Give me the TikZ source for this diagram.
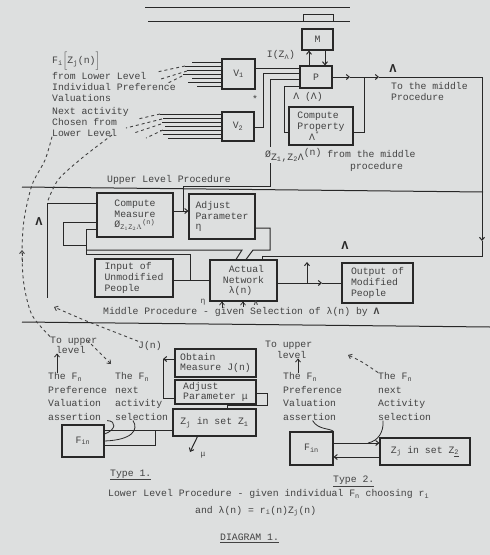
\documentclass[tikz,border=0pt]{standalone}
\usepackage{fontspec}
\setmainfont{Liberation Mono}
\setmonofont{Liberation Mono}
\usetikzlibrary{arrows.meta,positioning}
\definecolor{paper}{RGB}{221,223,223}
\definecolor{ink}{RGB}{40,40,40}
\definecolor{type}{RGB}{66,66,66}
\newcommand{\tyfont}{\fontsize{9.8}{10.8}\selectfont}
\newcommand{\sbs}[1]{\textsubscript{#1}}
\tikzset{>={Straight Barb[length=3pt,width=5pt]}}
\tikzset{
  box/.style={draw=ink, line width=1.1pt, align=left, inner sep=1pt, font=\tyfont, text=type},
  note/.style={align=left, inner sep=0pt, font=\tyfont, text=type, anchor=west},
  wire/.style={draw=ink, line width=1pt},
  feed/.style={draw=type, line width=0.9pt, dash pattern=on 3pt off 3pt},
  bigl/.style={inner sep=0pt, text=ink, font=\bfseries\fontsize{12}{12}\selectfont}
}
\begin{document}
\begin{tikzpicture}[x=1pt,y=-1pt]
\fill[paper] (0,0) rectangle (490,555);
\useasboundingbox (0,0) rectangle (490,555);

% top rules and cap
\draw[wire] (145,7) -- (350,7);
\draw[wire] (148,21) -- (350,21);
\draw[wire] (303,21) -- (303,14) -- (333,14) -- (333,21);

% upper level
\node[box, minimum width=31pt, minimum height=21pt, align=center] (m) at (317.5,39.5) {M};
\node[box, minimum width=32pt, minimum height=22pt, align=center] (p) at (316,77) {P};
\node[box, minimum width=64pt, minimum height=38pt] (cp) at (321,126) {Compute\\Property\\\ \ Λ\textsuperscript{*}};
\node[box, minimum width=33pt, minimum height=30pt, align=center] (v1) at (238.5,74) {V\sbs{1}};
\node[box, minimum width=32pt, minimum height=29pt, align=center] (v2) at (238,126.5) {V\sbs{2}};

\node[note] (fz) at (52,61) {F\sbs{i}$\Big[$Z\sbs{j}(n)$\Big]$};
\node[note, anchor=north west] (fl) at (52,72.5) {from Lower Level\\Individual Preference\\Valuations};
\node[note, anchor=north west] (cn) at (52,107.5) {Next activity\\Chosen from\\Lower Level};
\node[note, anchor=center] (iz) at (281,55) {I(Z\sbs{Λ})};
\node[note, anchor=center] (ll) at (308,97) {Λ (Λ)};
\node[bigl] (lt) at (393,69) {Λ};
\node[note, anchor=north west] (tm) at (391,82.5) {To the middle\\Procedure};
\node[note] (st) at (252,99) {*};

% bundles into V1 and V2
\foreach \yy/\xx in {62/192,66/185,70/187,74/183,78/192,82/188,86/197}
  \draw[wire, line width=0.8pt] (\xx,\yy) -- (v1.west |- 0,\yy);
\foreach \yy/\xx in {114/160,118/163,122/162,126/165,130/160,134/163,138/168}
  \draw[wire, line width=0.8pt] (\xx,\yy) -- (v2.west |- 0,\yy);
\draw[feed] (185,66) -- (157,72);
\draw[feed] (187,71) -- (161,79);
\draw[feed] (182,76) -- (168,83);
\draw[feed] (160,114) -- (138,119);
\draw[feed] (162,119) -- (126,128);
\draw[feed] (161,124) -- (134,133);
\draw[feed] (163,130) -- (146,138);

% wires into P
\draw[wire] (v1.east |- 0,68) -- (p.west |- 0,68);
\draw[wire] (v2.east |- 0,127) -- (263,127) -- (263,73) -- (p.west |- 0,73);
\draw[wire] (p.west |- 0,86) -- (284,86) -- (284,132) -- (cp.west |- 0,132);
\draw[wire,->] ([xshift=-7pt]p.north) -- ([xshift=-8.5pt]m.south);
\draw[wire,->] ([xshift=7.5pt]m.south) -- ([xshift=9pt]p.north);

% Lambda output
\coordinate (lamA) at (350,77);
\coordinate (lamB) at (364,77);
\coordinate (lamC) at (379,77);
\coordinate (lamD) at (482,241);
\draw[wire,->] (p.east) -- (lamA);
\draw[wire] (lamA) -- (lamB);
\draw[wire] (cp.east |- 0,132) -- (364,132) -- (lamB);
\draw[wire,->] (lamB) -- (lamC);
\draw[wire,->] (lamC) -- (482,77) -- (lamD);

% separators
\draw[wire] (22,187) -- (483,192);
\draw[wire] (22,322) -- (490,327);
\node[note] (ul) at (107,180) {Upper Level Procedure};

% middle level
\node[box, minimum width=76pt, minimum height=44pt] (cm) at (135,215) {Compute\\Measure\\Ø$_{\mathtt{Z}_1\mathtt{Z}_2\Lambda}$\textsuperscript{(n)}};
\node[box, minimum width=66pt, minimum height=45pt] (ap) at (222,216.5) {Adjust\\Parameter\\η};
\node[box, minimum width=78pt, minimum height=38pt] (iu) at (134,278) {Input of\\Unmodified\\People};
\node[box, minimum width=67pt, minimum height=41pt] (an) at (243.5,280.5) {\ Actual\\Network\\\ λ(n)};
\node[box, minimum width=71pt, minimum height=40pt] (om) at (377.5,283) {Output of\\Modified\\People};

\coordinate (cmout) at (183,211);
\draw[wire,->] (cm.east |- 0,211) -- (ap.west |- 0,211);
\draw[wire] (cmout) -- (183,186) -- (270,186) -- (270,79) -- (p.west |- 0,79);
\node[note, fill=paper, inner sep=1pt] (ph) at (264,155) {Ø\raisebox{-3pt}{Z\sbs{1},Z\sbs{2}Λ}\raisebox{2pt}{(n)} from the middle};
\node[note] (pr) at (350,167) {procedure};

\draw[wire] (cm.west |- 0,203) -- (47,203) -- (47,298);
\node[bigl] (lm) at (39,222) {Λ};
\draw[wire] (cm.west |- 0,222) -- (63,222) -- (63,245) -- (86,245);
\draw[wire] (cm.west |- 0,229) -- (86,229) -- (86,254) -- (190,254) -- (190,280);
\draw[wire] (86,250) -- (242,250) -- (an.north -| 236,0);
\draw[wire] (ap.east |- 0,228) -- (270,228) -- (270,250) -- (253,250) -- (an.north -| 246,0);
\draw[wire] (lamD) -- (482,256) -- (262,256) -- (an.north -| 262,0);
\node[bigl] (lw) at (345,246) {Λ};
\draw[wire] (iu.east |- 0,280) -- (an.west |- 0,280);

\coordinate (anout) at (307,283);
\coordinate (anmid) at (322,283);
\draw[wire] (an.east |- 0,283) -- (anout);
\draw[wire,->] (anout) -- (anmid);
\draw[wire] (anmid) -- (om.west |- 0,283);
\draw[wire,->] (anout) -- (307,262);

\node[note, anchor=center, font=\fontsize{8}{8}\selectfont] (et) at (203,302) {η};
\node[note, anchor=center, font=\bfseries\fontsize{7}{7}\selectfont] (la) at (256,303.5) {Λ};
\draw[wire, line width=0.7pt, ->] ([xshift=-21.5pt]an.south) ++(0,6) -- ([xshift=-21.5pt]an.south);
\draw[wire, line width=0.7pt, ->] ([xshift=-0.5pt]an.south) ++(0,5) -- ([xshift=-0.5pt]an.south);
\node[note] (mp) at (103,312) {Middle Procedure - given Selection of λ(n) by \textbf{Λ}};

% lower level, type 1
\node[box, minimum width=81pt, minimum height=28pt] (oj) at (215.5,363) {Obtain\\Measure J(n)};
\node[box, minimum width=81pt, minimum height=24pt] (am) at (215.5,392) {Adjust\\Parameter μ};
\node[box, minimum width=83pt, minimum height=27pt] (z1) at (214.5,422.5) {Z\sbs{j} in set Z\sbs{1}};
\node[box, minimum width=42pt, minimum height=32pt, align=center] (f1) at (83,441) {F\sbs{in}};

\node[note, anchor=north west, font={\fontsize{9.8}{10}\selectfont}] (tu1) at (50,336.5) {To upper\\\ level};
\node[note, anchor=north west, font={\fontsize{9.8}{13.5}\selectfont}] (pa1) at (48,372.5) {The F\sbs{n}\\Preference\\Valuation\\assertion};
\node[note, anchor=north west, font={\fontsize{9.8}{13.5}\selectfont}] (ns1) at (115,372.5) {The F\sbs{n}\\next\\activity\\selection};
\node[note, anchor=center] (jl) at (150,346) {J(n)};

\draw[wire, line width=0.8pt, ->] (pa1.north -| 57,0) -- (tu1.south -| 57,0);
\coordinate (jn) at (163,359);
\draw[wire,->] (oj.west |- 0,359) -- (jn);
\draw[wire] (jn) |- (am.west |- 0,398);
\draw[wire] (am.east |- 0,393) -- (267,393) -- (267,405) -- (227,405) -- (z1.north -| 227,0);
\draw[wire] (f1.east |- 0,430) -- (z1.west |- 0,430);
\draw[wire] (f1.east |- 0,445) -- (155,445) -- (155,430);
\draw[wire, line width=0.8pt] (pa1.south east) .. controls (117,421) and (116,430) .. (f1.east |- 0,434);
\draw[wire, line width=0.8pt] ([xshift=18pt]ns1.south west) .. controls (139,430) and (132,440) .. (f1.east |- 0,441);
\draw[wire,->] ([xshift=-17pt]z1.south) -- (190,452);
\node[note, anchor=center, font=\fontsize{8}{8}\selectfont] (mu) at (203,455) {μ};

\draw[feed] plot[smooth] coordinates {(cn.south west) (45,160) (32,185) (24,220) (22,253) (24,285) (32,315) (tu1.north west)};
\draw[feed, ->] (22,262) -- (22,250);
\draw[feed] plot[smooth] coordinates {(112,135) (82,158) (58,180) (47,203)};
\draw[feed, ->] plot[smooth] coordinates {(jl.north west) (112,331) (84,320) (54,307)};
\draw[feed, <-] (111,364) -- (88,341);

% lower level, type 2
\node[box, minimum width=43pt, minimum height=33pt, align=center] (f2) at (311.5,448.5) {F\sbs{in}};
\node[box, minimum width=90pt, minimum height=27pt] (z2) at (425,451.5) {Z\sbs{j} in set Z\sbs{\underline{2}}};
\node[note, anchor=north west, font={\fontsize{9.8}{11}\selectfont}] (tu2) at (265,340.5) {To upper\\\ \ level};
\node[note, anchor=north west, font={\fontsize{9.8}{13.5}\selectfont}] (pa2) at (283,372.5) {The F\sbs{n}\\Preference\\Valuation\\assertion};
\node[note, anchor=north west, font={\fontsize{9.8}{13.5}\selectfont}] (ns2) at (378,372.5) {The F\sbs{n}\\next\\Activity\\selection};

\coordinate (s2) at (368,443);
\draw[wire, line width=0.8pt, ->] (pa2.north -| 298,0) -- (tu2.south -| 298,0);
\draw[feed, ->] plot[smooth] coordinates {(ns2.north west) (362,362) (348,355)};
\draw[wire,->] (f2.east |- 0,443) -- (z2.west |- 0,443);
\draw[wire,->] (z2.west |- 0,457) -- (f2.east |- 0,457);
\draw[wire, line width=0.8pt] (pa2.south) .. controls (318,430) and (330,428) .. (f2.north east);
\draw[wire, line width=0.8pt] ([xshift=5pt]ns2.south west) .. controls (384,432) and (378,441) .. (s2);

% captions
\node[note] (t1) at (110,475) {\underline{Type 1.}};
\node[note] (t2) at (333,481) {\underline{Type 2.}};
\node[note] (c1) at (108,494) {Lower Level Procedure - given individual F\sbs{n} choosing r\sbs{i}};
\node[note] (c2) at (195,511) {and λ(n) = r\sbs{i}(n)Z\sbs{j}(n)};
\node[note] (c3) at (220,538) {\underline{DIAGRAM 1.}};
\end{tikzpicture}
\end{document}
